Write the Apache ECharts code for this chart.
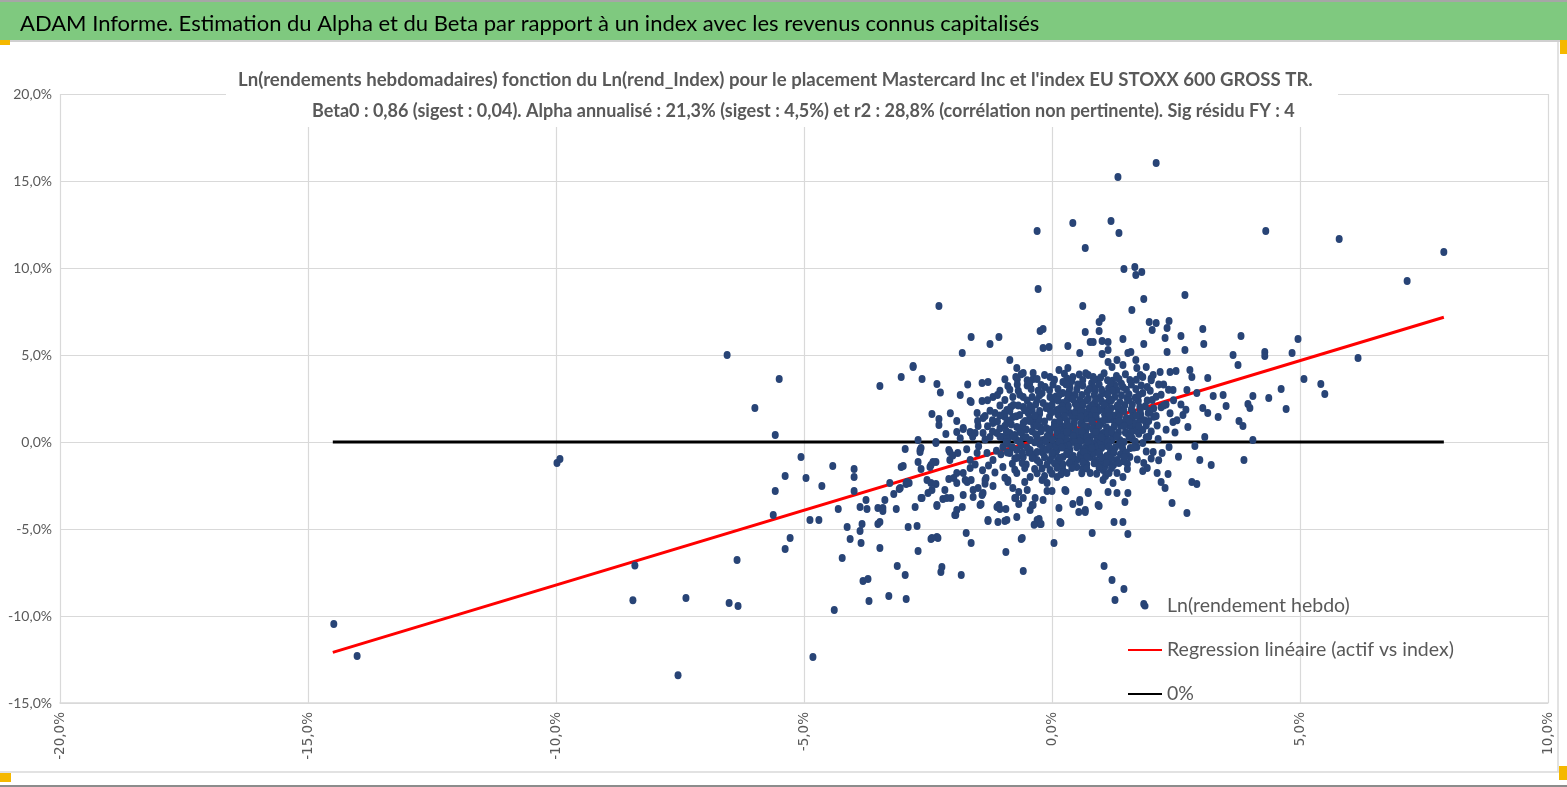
<!DOCTYPE html>
<html>
<head>
<meta charset="utf-8">
<script src="https://cdn.jsdelivr.net/npm/echarts@6/dist/echarts.min.js"></script>
<style>
html,body{margin:0;padding:0;background:#fff;}
#chart{width:1567px;height:787px;}
</style>
</head>
<body>
<div id="chart"></div>
<script>
var mainTitle = "ADAM Informe. Estimation du Alpha et du Beta par rapport à un index avec les revenus connus capitalisés";
var subTitle1 = "Ln(rendements hebdomadaires) fonction du Ln(rend_Index) pour le placement Mastercard Inc et l'index EU STOXX 600 GROSS TR.";
var subTitle2 = "Beta0 : 0,86 (sigest : 0,04). Alpha annualisé : 21,3% (sigest : 4,5%) et r2 : 28,8% (corrélation non pertinente). Sig résidu FY : 4";
var seriesNames = ["Ln(rendement hebdo)", "Regression linéaire (actif vs index)", "0%"];

// [index weekly log-return %, asset weekly log-return %]
var outlierPoints = [
[-14.48,-10.46],[-14.01,-12.3],[-9.98,-1.2],[-9.92,-0.98],[-8.41,-7.1],[-8.45,-9.1],[-7.38,-8.97],[-7.54,-13.4],
[2.10,16.03],[1.33,15.23],[-0.30,12.13],[0.42,12.59],[1.19,12.70],[1.35,12.01],[0.67,11.15],[1.45,9.94],[1.67,10.06],[1.69,9.60],[1.81,9.77],
[1.05,-7.13],[1.21,-7.93],[1.45,-8.45],[1.27,-9.08],[1.85,-9.31],
[4.31,12.13],[5.79,11.67],[7.90,10.92],[7.16,9.25],[6.17,4.83],[5.08,3.62],[5.42,3.33],[5.50,2.76]
];
var leftPoints = [
[-6.55,5.0],[-5.50,3.62],[-5.99,1.95],[-5.58,0.40],[-5.06,-0.86],[-5.38,-1.95],[-4.96,-2.07],[-5.58,-2.82],[-4.42,-1.38],[-3.99,-1.55],[-3.99,-2.01],[-4.64,-2.53],[-3.99,-2.82],[-5.62,-4.20],[-4.88,-4.48],[-4.70,-4.48],[-4.31,-3.85],[-3.75,-3.33],[-3.87,-3.74],[-3.73,-3.85],[-3.51,-3.79],[-3.41,-3.79],[-3.41,-3.97],[-3.37,-3.33],[-3.14,-3.85],[-3.19,-2.99],[-3.27,-2.36],[-3.08,-2.70],[-2.94,-2.41],[-2.88,-2.36],[-3.04,-1.44],[-2.96,-0.40],[-3.47,3.22],[-3.04,3.74],[-2.80,4.37],[-2.76,-3.74],[-2.90,-4.89],[-2.72,-4.83],[-2.70,-6.26],[-4.13,-4.89],[-3.83,-4.71],[-3.87,-5.11],[-3.51,-4.71],[-3.47,-4.60],[-4.07,-5.57],[-3.85,-5.80],[-3.47,-6.09],[-5.28,-5.52],[-5.38,-6.15],[-6.35,-6.78],[-4.23,-6.67],[-3.12,-7.13],[-2.96,-7.64],[-3.81,-7.99],[-3.71,-7.87],[-3.69,-9.14],[-3.29,-8.85],[-2.94,-9.02],[-6.51,-9.25],[-6.33,-9.43],[-4.39,-9.66],[-4.82,-12.36],
[-2.42,1.61],[-2.28,1.32],[-2.28,0.98],[-1.92,1.21],[-1.79,0.80],[-1.92,0.57],[-2.14,0.46],[-1.63,0.52],[-1.51,1.67],[-1.39,1.38],[-1.63,2.30],[-2.70,0.11],[-2.64,-0.34],[-2.66,-0.57],[-2.34,-0.06],[-2.08,-0.46],[-2.06,-1.03],[-2.34,-1.15],[-2.44,-1.32],[-2.70,-1.15],[-2.64,-1.55],[-3.00,-1.38],[-2.94,-2.36],[-2.52,-2.18],[-2.44,-2.36],[-2.34,-2.41],[-2.42,-2.76],[-2.08,-2.13],[-1.98,-2.07],[-1.92,-1.78],[-1.79,-1.78],[-1.65,-1.49],[-1.63,-2.18],[-1.71,-2.30],[-1.92,-2.36],[-2.16,-2.76],[-2.20,-3.28],[-2.04,-3.22],[-2.32,-3.62],[-2.64,-3.22],[-1.79,-3.05],[-1.59,-3.16],[-1.41,-3.05],[-1.49,-2.64],[-1.33,-2.07],[-1.19,-2.53],[-1.45,-3.62],[-1.81,-3.74],[-1.94,-4.20],[-1.29,-4.54],[-1.07,-3.62],[-1.05,-3.85],[-0.93,-3.85],[-0.89,-2.30],[-0.67,-2.87],[-0.75,-3.22],[-0.67,-3.56],[-0.71,-4.31],[-0.95,-4.54],[-0.50,-2.76],[-0.34,-3.22],[-0.40,-3.62],[-0.18,-3.33],[-0.30,-4.48],[-0.24,-4.71],[-0.36,-4.75],[-2.44,-5.57],[-2.30,-5.52],[-1.73,-5.23],[-1.63,-5.80],[-0.93,-6.32],[-0.62,-5.57],[0.04,-5.80],[0.18,-4.66],[0.14,-3.79],[0.42,-3.56],[0.54,-4.02],[0.67,-4.02],[0.56,-3.45],[0.73,-2.93],[0.81,-5.23],[0.95,-3.68],[0.26,-2.76],[0.00,-2.82],[-0.10,-2.82],[-2.22,-7.18],[-2.24,-7.47],[-1.83,-7.64],[-0.58,-7.41]
];
var corePoints = [
[-0.28,8.79],[-2.28,7.82],[0.62,7.82],[1.85,8.22],[2.68,8.45],[1.61,7.59],[1.01,7.13],[0.95,6.90],[1.96,6.90],[2.10,6.84],[2.36,6.95],[-0.24,6.38],[-0.18,6.49],[0.67,6.32],[0.95,6.38],[2.02,6.44],[2.32,6.55],[3.04,6.49],[-1.63,6.03],[-1.07,6.03],[-1.25,5.63],[-0.18,5.40],[-0.06,5.46],[0.32,5.52],[0.77,5.75],[0.83,5.75],[1.01,5.80],[1.13,5.75],[1.43,5.92],[1.85,5.63],[2.28,5.98],[2.60,6.09],[2.68,5.29],[3.06,5.63],[3.81,6.09],[4.96,5.92],[-1.81,5.11],[0.56,5.11],[1.01,5.06],[1.13,5.29],[1.53,5.11],[1.59,5.17],[2.32,5.17],[3.65,5.00],[4.29,5.17],[4.29,4.94],[4.84,5.11],[-2.80,4.31],[-2.62,3.62],[-2.32,3.33],[-0.85,4.71],[-0.71,4.25],[-0.58,3.97],[-0.38,3.97],[-0.38,3.62],[-0.73,3.74],[-0.89,3.22],[-0.04,3.74],[0.14,4.14],[0.32,4.25],[0.22,3.45],[0.42,3.74],[0.62,3.56],[0.73,3.85],[0.83,3.74],[0.91,3.56],[1.13,4.60],[1.21,4.31],[1.31,4.71],[1.43,4.43],[1.69,4.71],[1.71,4.25],[1.90,4.31],[1.83,3.74],[2.04,3.85],[2.18,4.02],[2.38,4.02],[2.50,4.08],[2.78,4.14],[2.82,3.74],[3.14,3.68],[3.75,4.43],[4.05,2.64],[4.37,2.53],[4.62,3.05],[4.72,1.90],[3.95,2.18],[3.99,1.95],[3.45,2.70],[3.51,2.07],[3.25,2.64],[3.35,1.44],[3.77,1.21],[3.85,0.92],[4.05,0.11],[3.87,-1.03],[3.21,-1.32],[2.98,-1.03],[3.08,0.29],[2.88,-0.23],[3.14,1.67],[3.04,1.95],[2.92,2.82],[2.72,2.99],[2.74,0.86],[2.64,1.55],[2.44,2.99],[2.44,1.15],[2.36,-0.29],[2.22,-0.63],[2.04,-0.57],[2.14,0.17],[2.12,-1.78],[1.92,-1.49],[1.83,-1.67],[2.20,-2.30],[2.28,-2.64],[2.34,-1.84],[2.42,-3.51],[2.72,-4.08],[2.82,-2.30],[2.92,-2.41],[1.53,-2.93],[1.47,-3.45],[1.31,-2.93],[1.43,-4.60],[1.53,-5.29],[1.25,-4.60],[1.23,-2.36],[1.13,-2.87],[1.03,-2.18],[0.93,-3.62],[0.73,-2.87],[0.67,-3.91],[0.56,-3.33],[0.16,-4.60],[0.28,-2.82],[-0.10,-2.36],[-0.20,-2.18],[-0.26,-4.43],[-0.22,-4.71],[-0.60,-5.52],[-0.44,-3.91],[-0.38,-3.62],[-0.58,-3.22],[-0.73,-3.22],[-0.79,-2.64],[-0.89,-2.18],[-0.91,-4.48],[-1.11,-3.74],[-1.09,-4.60],[-1.29,-4.48],[-1.43,-3.56],[-1.39,-2.93],[-1.35,-2.18],[-1.59,-2.76],[-1.75,-2.18],[-1.92,-3.91],[-1.96,-4.20],[-2.12,-3.22],[-2.32,-3.68],[-2.32,-5.46],[-2.42,-5.52],[-2.50,-2.93],[-2.62,-3.22],[-3.06,-2.64],[-2.92,-2.30],[-2.66,-0.46],[-2.46,-1.44],[-2.40,-1.15],[-2.34,0.00],[-2.06,-0.57],[-1.90,-0.63],[-1.79,0.75],[-1.65,0.57],[-1.55,0.52],[-1.49,0.92],[-1.65,2.36],[-1.41,2.36],[-1.41,3.39],[-1.29,3.45],[-1.19,2.59],[-1.15,1.67],[-1.19,1.09],[-0.91,1.84],[-0.83,2.01],[-0.91,1.09],[-0.79,1.44],[-0.71,0.86],[-0.58,1.09],[-0.48,1.67],[-0.40,2.59],[-0.58,2.59],[-0.79,2.59],[-0.58,2.01],[-0.34,1.26],[-0.24,0.86],[-0.18,2.24],[-0.14,3.16],[-0.20,2.82],[-0.04,2.59],[0.02,2.41],[-0.04,1.84],[0.10,1.84],[0.22,2.24],[0.22,2.82],[0.36,3.16],[0.46,2.70],[0.56,2.41],[0.36,1.67],[0.50,1.44],[0.62,1.26],[0.71,0.86],[0.77,1.67],[0.91,2.01],[0.97,2.59],[1.03,2.82],[1.11,2.24],[1.17,1.67],[1.23,1.26],[1.31,2.99],[1.31,2.01],[1.43,3.16],[1.51,2.53],[1.57,3.56],[1.63,1.72],[1.77,2.01],[1.83,2.82],[1.92,3.16],[1.94,1.67],[2.02,2.41],[1.77,1.26],[1.83,0.69],[1.63,0.86],[1.51,0.52],[1.43,1.09],[1.37,0.11],[1.17,0.69],[1.03,0.52],[0.91,0.11],[0.77,0.29],[0.62,0.11],[0.50,0.29],[0.36,0.52],[0.22,0.11],[0.10,0.29],[-0.04,0.52],[-0.18,0.11],[-0.30,0.29],[-0.44,0.11],[-0.58,0.29],[-0.71,0.11],[-0.85,0.52],[-0.99,0.29],[-1.11,0.52],[-1.25,0.29],[-1.39,0.52],[-0.99,-0.29],[-0.85,-0.63],[-0.71,-0.46],[-0.58,-0.86],[-0.44,-0.46],[-0.30,-1.03],[-0.18,-0.63],[-0.04,-1.03],[0.10,-0.46],[0.22,-0.86],[0.36,-0.46],[0.50,-1.03],[0.62,-0.46],[0.77,-0.86],[0.91,-0.46],[1.03,-1.03],[1.17,-0.63],[1.31,-1.03],[1.43,-0.46],[1.57,-0.86],[1.71,-0.29],[1.83,-0.06],[-0.04,-1.61],[0.22,-1.61],[0.50,-1.44],[0.77,-1.78],[1.03,-1.61],[1.31,-1.78],[1.43,-2.01],[0.10,-2.01],[-0.44,-2.01],[-0.71,-1.78],[-0.99,-1.44],[-1.19,-1.03],[-1.31,-0.63],[-1.51,-0.63],[-1.65,-1.03]
];
var densePoints = [
[-0.52,0.72],[-0.37,0.98],[-0.12,0.81],[0.05,1.12],[0.18,0.95],[0.31,1.21],[0.44,0.88],[0.58,1.05],[0.70,1.33],[0.84,0.97],[0.98,1.18],[1.10,0.83],[1.24,1.52],[1.38,0.93],[1.50,1.38],[1.66,1.09],[1.79,1.56],[1.90,0.95],
[-0.65,1.55],[-0.45,1.35],[-0.25,1.62],[-0.05,1.45],[0.12,1.58],[0.27,1.80],[0.40,1.50],[0.55,1.93],[0.66,1.70],[0.80,1.52],[0.93,1.78],[1.06,1.60],[1.19,1.95],[1.34,1.70],[1.47,2.12],[1.60,1.88],[1.74,2.35],[1.88,2.05],[2.05,1.92],
[-0.33,2.15],[-0.10,2.05],[0.08,2.62],[0.30,2.38],[0.47,2.20],[0.60,2.70],[0.73,2.48],[0.87,2.95],[1.00,2.33],[1.14,3.08],[1.27,2.60],[1.40,3.35],[1.55,2.75],[1.69,3.05],[2.10,2.60],[2.25,3.30],[2.45,2.40],
[0.12,3.05],[0.35,2.95],[0.52,3.30],[0.80,3.38],[0.98,3.70],[1.22,3.52],[0.68,3.95],
[-0.90,-0.10],[-0.75,0.40],[-0.62,-0.20],[-0.40,0.62],[-0.25,-0.12],[-0.08,0.38],[0.03,-0.15],[0.15,0.68],[0.28,-0.05],[0.42,0.42],[0.55,-0.18],[0.68,0.62],[0.83,-0.12],[0.96,0.38],[1.09,-0.22],[1.22,0.40],[1.36,-0.15],[1.48,0.55],[1.62,0.20],[1.75,0.48],
[-0.80,-1.25],[-0.52,-1.30],[-0.36,-0.72],[-0.10,-1.30],[0.03,-0.72],[0.16,-1.22],[0.30,-0.70],[0.44,-1.25],[0.57,-0.72],[0.70,-1.28],[0.84,-0.65],[0.97,-1.30],[1.10,-0.80],[1.24,-1.32],[1.38,-0.72],[1.52,-1.25],
[-1.05,0.78],[-1.20,1.25],[-1.35,0.15],[-1.48,-0.25],[-1.60,0.30],[-1.12,-0.50],[-1.28,-1.35],[-1.40,-1.62],[-1.55,-1.30],[-1.72,-0.42],[-1.85,0.22],[-2.00,-0.78],
[-1.05,2.95],[-0.95,1.45],[-2.05,1.65],[-1.85,2.70],[-0.68,2.95],[-2.25,2.85],[-1.70,3.30]
];
var clusterPoints = [
[0.05,0.95],[0.12,0.42],[0.19,1.38],[0.26,0.62],[0.33,2.05],[0.40,0.08],[0.47,1.72],[0.54,0.55],[0.61,2.25],[0.68,-0.30],[0.75,1.95],[0.82,0.75],[0.89,1.42],[0.96,-0.70],[1.02,1.88],[1.09,0.35],[1.16,2.45],[1.23,-0.45],[1.30,1.15],[1.37,2.28],
[0.08,-0.55],[0.15,1.90],[0.22,-1.30],[0.29,0.95],[0.36,2.62],[0.43,-0.80],[0.50,2.05],[0.57,0.38],[0.64,-1.10],[0.71,2.88],[0.78,0.02],[0.85,2.20],[0.92,-0.25],[0.99,1.05],[1.06,-1.45],[1.13,1.30],[1.20,0.10],[1.27,3.25],[1.34,0.55],[1.41,1.85],
[-0.05,0.72],[-0.12,1.95],[-0.19,-0.35],[-0.26,1.28],[-0.33,0.45],[-0.40,1.80],[-0.47,-0.60],[-0.54,1.20],[-0.61,0.60],[-0.68,2.10],[-0.75,-0.95],[-0.82,1.00],[-0.89,0.20],[-0.96,1.65],[-1.03,-0.70],
[0.02,3.30],[0.18,-1.85],[0.40,3.50],[0.62,-1.55],[0.85,3.10],[1.08,-1.95],[1.30,3.80],[1.52,-1.55],[1.68,2.55],[1.85,-1.20],[2.00,3.55],[2.15,-1.05],[2.30,2.15],[2.48,0.55],[2.55,-0.85],
[-0.15,-1.95],[-0.35,-1.55],[-0.55,-2.30],[-0.75,-1.60],[-0.95,-2.05],[-1.15,-1.75],[-1.35,-2.40],[-0.28,2.95],[-0.50,3.25],[-0.70,3.60],
[1.55,0.95],[1.62,1.45],[1.70,0.65],[1.78,1.80],[1.86,1.25],[1.95,0.30],[2.05,1.45],[2.12,0.95],[2.20,2.00],[2.30,0.70],[2.38,1.65],[2.52,1.25],[2.60,2.15],[2.70,1.85],[1.58,-0.35],[1.72,-1.00],[1.90,-0.55],[2.00,-0.95],
[0.00,0.15],[0.07,-0.28],[0.14,0.00],[0.21,0.40],[0.28,0.20],[0.35,-0.20],[0.42,0.15],[0.49,0.60],[0.56,0.05],[0.63,0.45],[0.70,0.15],[0.77,-0.15],[0.84,0.45],[0.91,0.70],[0.98,-0.05],[1.05,0.20],[1.12,0.55],
[-0.10,-0.45],[0.00,-0.80],[0.12,-1.05],[0.25,-0.30],[0.38,-1.10],[0.60,-0.90],[0.72,-0.55],[0.88,-1.05],[1.00,-0.35],[1.15,-1.15],[1.28,-0.30],[1.45,-1.10]
];
var blobPoints = [
[-0.62,3.9],[-0.15,3.85],[0.25,3.92],[0.55,3.88],[1.05,3.95],[1.48,3.9],[1.78,3.85],
[-0.95,3.6],[-0.5,3.55],[-0.3,3.62],[0.05,3.58],[0.3,3.65],[0.85,3.6],[1.12,3.55],[1.35,3.62],[1.7,3.58],[2.0,3.65],
[-0.7,3.3],[-0.45,3.35],[-0.22,3.28],[0.28,3.32],[0.62,3.25],[0.95,3.3],[1.18,3.35],[1.6,3.3],[1.8,3.25],[2.15,3.3],
[-0.85,3.0],[-0.42,3.05],[-0.05,2.98],[0.5,3.02],[0.75,3.05],[1.0,3.0],[1.22,2.95],[1.5,3.0],[1.98,2.95],[2.35,3.0],
[-1.1,2.7],[-0.65,2.72],[-0.25,2.68],[0.15,2.72],[0.33,2.68],[0.85,2.7],[1.12,2.72],[1.4,2.68],[1.75,2.7],[2.2,2.72],
[-1.3,2.4],[-0.95,2.42],[-0.5,2.38],[-0.3,2.42],[0.12,2.38],[0.42,2.45],[0.7,2.38],[0.88,2.42],[1.2,2.4],[1.55,2.42],[1.92,2.38],
[-1.05,2.1],[-0.78,2.12],[-0.45,2.08],[0.0,2.12],[0.2,2.05],[0.62,2.1],[0.8,2.08],[1.05,2.12],[1.32,2.1],[1.62,2.15],[2.25,2.1],
[-1.25,1.8],[-0.85,1.78],[-0.55,1.82],[-0.25,1.78],[0.0,1.72],[0.22,1.82],[0.58,1.78],[0.85,1.82],[1.12,1.8],[1.45,1.78],[1.98,1.8],
[-1.35,1.5],[-1.05,1.52],[-0.72,1.48],[-0.35,1.52],[0.25,1.48],[0.58,1.45],[0.88,1.5],[1.15,1.48],[1.36,1.45],[1.7,1.52],[2.1,1.5],
[-1.5,1.2],[-1.1,1.18],[-0.85,1.22],[-0.45,1.2],[-0.15,1.18],[0.15,1.22],[0.45,1.15],[0.8,1.2],[1.05,1.25],[1.35,1.2],[1.55,1.18],[1.95,1.2],
[-1.3,0.9],[-0.95,0.92],[-0.6,0.88],[-0.3,0.92],[0.05,0.85],[0.35,0.9],[0.65,0.88],[0.95,0.92],[1.25,0.88],[1.45,0.92],[1.75,0.9],
[-1.2,0.6],[-0.92,0.62],[-0.65,0.58],[-0.22,0.62],[0.1,0.6],[0.3,0.58],[0.6,0.62],[0.88,0.58],[1.2,0.62],[1.6,0.58],[2.0,0.6],
[-1.05,0.3],[-0.78,0.32],[-0.52,0.28],[-0.1,0.32],[0.18,0.28],[0.43,0.32],[0.7,0.3],[1.0,0.28],[1.3,0.32],[1.55,0.3],[1.9,0.28],
[-0.92,0.0],[-0.65,0.02],[-0.35,-0.02],[-0.12,0.02],[0.16,-0.02],[0.45,0.0],[0.72,0.02],[1.12,-0.02],[1.45,0.0],[1.68,0.02],
[-0.8,-0.3],[-0.5,-0.32],[-0.05,-0.28],[0.2,-0.32],[0.5,-0.3],[0.8,-0.35],[1.15,-0.28],[1.42,-0.3],[1.65,-0.32],
[-0.9,-0.6],[-0.6,-0.62],[-0.3,-0.58],[0.0,-0.62],[0.3,-0.6],[0.65,-0.58],[0.95,-0.62],[1.25,-0.6],[1.5,-0.62],
[-0.7,-0.9],[-0.4,-0.92],[-0.15,-0.88],[0.15,-0.9],[0.4,-0.92],[0.7,-0.88],[1.0,-0.9],[1.2,-0.92],[1.45,-0.88],
[-0.6,-1.2],[-0.25,-1.18],[0.05,-1.22],[0.35,-1.2],[0.62,-1.18],[0.85,-1.22],[1.1,-1.2],[1.35,-1.2],
[-0.55,-1.5],[-0.2,-1.52],[0.1,-1.48],[0.4,-1.5],[0.7,-1.52],[0.95,-1.48],[1.2,-1.5],
[-0.3,-1.8],[0.0,-1.82],[0.3,-1.78],[0.6,-1.8],[0.9,-1.82],[1.15,-1.78]
];
var regressionLine = [[-14.5,-12.09],[7.9,7.17]];
var zeroLine = [[-14.5,0],[7.9,0]];
var xTickMin = -20, xTickMax = 10, yTickMin = -15, yTickMax = 20, tickStep = 5;

var weeklyPoints = outlierPoints.concat(leftPoints, corePoints, densePoints, clusterPoints, blobPoints);
var font = "'Lato',sans-serif";
function pct(v){ return v.toFixed(1).replace('.', ',') + '%'; }

var chart = echarts.init(document.getElementById('chart'), null, {renderer:'canvas'});
chart.setOption({
  animation:false,
  backgroundColor:'#ffffff',
  title:[
    {text: mainTitle, left:15, top:8,
     textStyle:{fontFamily:font, fontSize:22, fontWeight:'normal', color:'#000000'}},
    {text: subTitle1, left:238, top:69, padding:0, z:10,
     textStyle:{fontFamily:font, fontSize:18.6, fontWeight:'bold', color:'#595959', lineHeight:22}},
    {text: subTitle2, left:312, top:100, padding:0, z:10,
     textStyle:{fontFamily:font, fontSize:18, fontWeight:'bold', color:'#595959', lineHeight:22}}
  ],
  graphic:[
    {type:'rect', z:-1, shape:{x:0,y:2,width:1567,height:38}, style:{fill:'#7fc97f'}},
    {type:'line', shape:{x1:0,y1:1,x2:1567,y2:1}, style:{stroke:'#a6a6a6',lineWidth:2}},
    {type:'line', shape:{x1:0,y1:41,x2:1567,y2:41}, style:{stroke:'#d0d0d0',lineWidth:2}},
    {type:'rect', z:5, shape:{x:226,y:64,width:1112,height:63}, style:{fill:'#ffffff'}},
    {type:'line', shape:{x1:1558,y1:42,x2:1558,y2:772}, style:{stroke:'#d9d9d9',lineWidth:1.5}},
    {type:'line', shape:{x1:0,y1:772,x2:1567,y2:772}, style:{stroke:'#d9d9d9',lineWidth:1.5}},
    {type:'line', shape:{x1:0,y1:786,x2:1567,y2:786}, style:{stroke:'#8c8c8c',lineWidth:2}},
    {type:'rect', shape:{x:0,y:40,width:10,height:5}, style:{fill:'#f5b800'}},
    {type:'rect', shape:{x:1560,y:40,width:7,height:14}, style:{fill:'#f5b800'}},
    {type:'rect', shape:{x:0,y:773,width:11,height:9}, style:{fill:'#f5b800'}},
    {type:'rect', shape:{x:1559,y:766,width:8,height:14}, style:{fill:'#f5b800'}}
  ],
  legend:{
    orient:'vertical', left:1122, top:591, itemWidth:34, itemHeight:7, itemGap:24,
    textStyle:{fontFamily:font, fontSize:19.5, color:'#595959', lineHeight:20},
    data:[
      {name:seriesNames[0], icon:'circle'},
      {name:seriesNames[1], itemStyle:{opacity:0}},
      {name:seriesNames[2], itemStyle:{opacity:0}}
    ]
  },
  grid:{left:60, right:19, top:94, bottom:84},
  xAxis:{
    type:'value', min:xTickMin, max:xTickMax, interval:tickStep,
    axisLine:{show:true, onZero:false, lineStyle:{color:'#d9d9d9', width:1.5}},
    axisTick:{show:false},
    splitLine:{show:true, lineStyle:{color:'#d9d9d9', width:1.2}},
    axisLabel:{rotate:90, margin:9, formatter:pct, color:'#595959',
      fontFamily:"'DejaVu Sans',sans-serif", fontSize:13.5}
  },
  yAxis:{
    type:'value', min:yTickMin, max:yTickMax, interval:tickStep,
    axisLine:{show:false}, axisTick:{show:false},
    splitLine:{show:true, lineStyle:{color:'#d9d9d9', width:1.2}},
    axisLabel:{margin:8, formatter:pct, color:'#595959', fontFamily:font, fontSize:14}
  },
  series:[
    {name:seriesNames[0], type:'scatter', data:weeklyPoints, symbol:'circle', symbolSize:[7,8], z:5,
     itemStyle:{color:'#284476', opacity:1}},
    {name:seriesNames[1], type:'line', data:regressionLine, symbol:'none', z:3,
     lineStyle:{color:'#ff0000', width:3}, itemStyle:{color:'#ff0000'}},
    {name:seriesNames[2], type:'line', data:zeroLine, symbol:'none', z:2,
     lineStyle:{color:'#000000', width:3}, itemStyle:{color:'#000000'}}
  ]
});
</script>
</body>
</html>
